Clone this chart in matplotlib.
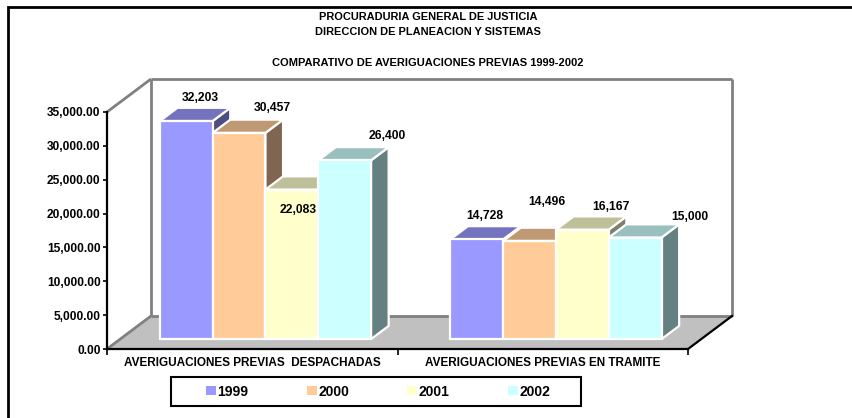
"""Comparativo de averiguaciones previas 1999-2002 (Excel-style 3D column chart)."""
import matplotlib
matplotlib.use("Agg")
import matplotlib.pyplot as plt
from matplotlib.patches import Patch, Polygon, Rectangle

plt.rcParams["font.family"] = ["Liberation Sans", "DejaVu Sans"]
plt.rcParams["font.weight"] = "bold"

categories = ["AVERIGUACIONES PREVIAS  DESPACHADAS", "AVERIGUACIONES PREVIAS EN TRAMITE"]
years = ["1999", "2000", "2001", "2002"]
despachadas = [32203, 30457, 22083, 26400]
en_tramite = [14728, 14496, 16167, 15000]
values = [despachadas, en_tramite]
yticks = [0, 5000, 10000, 15000, 20000, 25000, 30000, 35000]

front = ["#9999FF", "#FFCC99", "#FFFFCC", "#CCFFFF"]
top = ["#7373BF", "#BF9973", "#BFBF99", "#99BFBF"]
side = ["#4D4D80", "#806650", "#80806A", "#648080"]
# label offsets in pixels from the bar's front-top centre (Excel places them oddly)
lab_off = [[(14, 23), (33, 25), (6, -20), (43, 24)],
           [(8, 23), (17, 39), (29, 23), (55, 21)]]

W, H = 853, 418
fig = plt.figure(figsize=(W / 100, H / 100), dpi=100)
# front floor line runs 107..688 px at y=349, 35,000 at y=112
ax = fig.add_axes([107 / W, (H - 349) / H, 581 / W, 237 / H])
ymax = 35000
ax.set_xlim(0, 2)
ax.set_ylim(0, ymax)
px_x = 2 / 581
px_y = ymax / 237
DX, DY = 44 * px_x, 33 * px_y      # full depth of the floor
d0, d1 = 0.3, 0.7                  # depth range occupied by the bars
bw = 52.8 * px_x


def P(x, y, d):
    return (x + d * DX, y + d * DY)


def poly(pts, fc, ec="none", lw=0, z=1):
    ax.add_patch(Polygon(pts, closed=True, facecolor=fc, edgecolor=ec,
                         linewidth=lw, zorder=z, clip_on=False, joinstyle="miter"))


# walls and floor
poly([P(0, 0, 0), P(0, 0, 1), P(2, 0, 1), P(2, 0, 0)], "#C0C0C0", z=1)
wall = dict(color="#808080", lw=2, zorder=1.5, clip_on=False, solid_capstyle="butt")
for a, b in [(P(0, ymax, 0), P(0, ymax, 1)), (P(0, ymax, 1), P(2, ymax, 1)),
             (P(0, 0, 1), P(0, ymax, 1)), (P(2, 0, 1), P(2, ymax, 1)),
             (P(0, 0, 0), P(0, 0, 1)), (P(0, 0, 1), P(2, 0, 1))]:
    ax.plot([a[0], b[0]], [a[1], b[1]], **wall)
a, b = P(2, 0, 0), P(2, 0, 1)
ax.plot([a[0], b[0]], [a[1], b[1]], color="black", lw=1.6, zorder=1.6, clip_on=False)

# bars
for g, vals in enumerate(values):
    cx = g + 0.5
    for i, v in enumerate(vals):
        x0 = cx + (i - 1.5) * bw - bw / 2
        x1 = x0 + bw
        ed = dict(ec="white", lw=1.6, z=3 + g * 10 + i)
        poly([P(x1, 0, d0), P(x1, 0, d1), P(x1, v, d1), P(x1, v, d0)], side[i], **ed)
        poly([P(x0, v, d0), P(x1, v, d0), P(x1, v, d1), P(x0, v, d1)], top[i], **ed)
        poly([P(x0, 0, d0), P(x1, 0, d0), P(x1, v, d0), P(x0, v, d0)], front[i], **ed)
        bx, by = P((x0 + x1) / 2, v, d0)
        ox, oy = lab_off[g][i]
        ax.text(bx + ox * px_x, by + oy * px_y, f"{v:,}", ha="center", va="center",
                fontsize=8.7, fontweight="bold", zorder=50)

# axes
for s in ["top", "right"]:
    ax.spines[s].set_visible(False)
ax.spines["left"].set_linewidth(1.6)
ax.spines["bottom"].set_linewidth(1.6)
ax.spines["left"].set_zorder(40)
ax.spines["bottom"].set_zorder(40)
ax.patch.set_visible(False)
ax.set_yticks(yticks)
ax.set_yticklabels([f"{t:,.2f}" for t in yticks], fontsize=8.6, fontweight="bold")
ax.set_xticks([0, 1, 2])
ax.set_xticklabels([])
ax.set_xticks([0.5, 1.5], minor=True)
ax.set_xticklabels(categories, minor=True, fontsize=8.5, fontweight="bold")
ax.tick_params(axis="y", length=3, width=1.2, pad=1.5)
ax.tick_params(axis="x", which="major", length=4, width=1.2)
ax.tick_params(axis="x", which="minor", length=0, pad=6)

# titles
fig.text(428 / W, 1 - 17 / H, "PROCURADURIA GENERAL DE JUSTICIA", ha="center", va="center",
         fontsize=7.9, fontweight="bold")
fig.text(428 / W, 1 - 32 / H, "DIRECCION DE PLANEACION Y SISTEMAS", ha="center", va="center",
         fontsize=7.9, fontweight="bold")
fig.text(428 / W, 1 - 63 / H, "COMPARATIVO DE AVERIGUACIONES PREVIAS 1999-2002", ha="center",
         va="center", fontsize=8.0, fontweight="bold")

# outer frame
fig.patches.append(Rectangle((8 / W, -0.1), 1.0, 1 - 7 / H + 0.1, transform=fig.transFigure,
                             fill=False, edgecolor="black", linewidth=2, zorder=0))

# legend (frame drawn separately so the side padding can be wider than the vertical one)
fig.patches.append(Rectangle((171 / W, 1 - 406 / H), 410 / W, 29 / H, transform=fig.transFigure,
                             fill=False, edgecolor="black", linewidth=1.5, zorder=5))
handles = [Patch(facecolor=c, edgecolor="none") for c in front]
leg = fig.legend(handles, years, loc="center", bbox_to_anchor=(378 / W, 1 - 391.5 / H),
                 ncol=4, frameon=False, prop={"size": 10, "weight": "bold"},
                 handlelength=0.72, handleheight=0.58, handletextpad=0.1,
                 columnspacing=4.2, borderpad=0, borderaxespad=0)

fig.savefig("out.png", dpi=100)
